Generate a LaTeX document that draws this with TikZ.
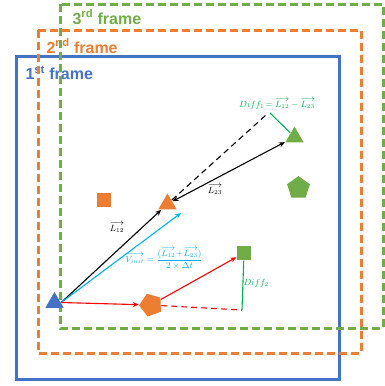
\documentclass[tikz,border=0pt]{standalone}
\usepackage{amstext, amsfonts, amsmath, amssymb}
\usepackage{fontspec}
\usepackage{tikz}
\usetikzlibrary{shapes.geometric, arrows.meta}
\newfontfamily\framefont{Liberation Sans}
\definecolor{fblue}{HTML}{4472C4}
\definecolor{forange}{HTML}{ED7D31}
\definecolor{fgreen}{HTML}{70AD47}
\definecolor{dgreen}{HTML}{00B050}
\definecolor{lblue}{HTML}{00B0F0}
\definecolor{fred}{HTML}{FF0000}
\begin{document}
\begin{tikzpicture}[x=1pt, y=-1pt, line width=1.1pt, >={Stealth[length=6pt,width=5pt]},
  tri/.style = {regular polygon, regular polygon sides=3, minimum size=21pt, inner sep=0pt},
  pent/.style = {regular polygon, regular polygon sides=5, minimum size=24pt, inner sep=0pt},
  sq/.style = {rectangle, minimum size=14pt, inner sep=0pt},
  frm/.style = {line width=3pt, dash pattern=on 8pt off 4pt},
  dsh/.style = {dash pattern=on 6pt off 4pt},
  lbl/.style = {font=\framefont\fontsize{16}{18}\selectfont\bfseries, inner sep=0pt, anchor=west},
  mth/.style = {font=\small, inner sep=1pt}]
 			\useasboundingbox (0,0) rectangle (385,386);

 			% frames
 			\draw[fblue, line width=3pt] (16,56) rectangle (339,379);
 			\node[lbl, text=fblue] (f1) at (25,73) {1\textsuperscript{st} frame};
 			\draw[forange, frm] (38,30) rectangle (361,353);
 			\node[lbl, text=forange] (f2) at (46,46) {2\textsuperscript{nd} frame};
 			\draw[fgreen, frm] (60,4) rectangle (383,328);
 			\node[lbl, text=fgreen] (f3) at (72,17) {3\textsuperscript{rd} frame};

 			% objects
 			\node[tri, fill=fblue] (1) at (54.5,302.5) {};
 			\node[tri, fill=forange] (2) at (167.5,204) {};
 			\node[tri, fill=fgreen] (3) at (294.5,137) {};
 			\node[sq, fill=forange] (4) at (104,200) {};
 			\node[pent, fill=forange, shape border rotate=20] (5) at (151,305) {};
 			\node[pent, fill=fgreen] (6) at (298.5,188) {};
 			\node[sq, fill=fgreen] (7) at (244,253) {};
 			\coordinate (8) at (266,115);
 			\coordinate (9) at (242,310);
 			\coordinate (10) at (181,213);
 			\coordinate (11) at (270,113);

 			% vectors
 			\draw[->] (1.east) -- (2);
 			\draw[->, lblue] (1.east) -- (10);
 			\draw[<->] (2) -- (3);
 			\draw[dsh] (2) -- (8);
 			\draw[->, fred] (1.east) -- (5);
 			\draw[->, fred] (5) -- (7);
 			\draw[dsh, fred] (5) -- (9);
 			\draw[dgreen] (9) -- (7);
 			\draw[dgreen] (11) -- (3);

 			% labels
 			\node[mth] (12) at (117,227) {$\overrightarrow{L_{12}}$};
 			\node[mth] (13) at (215,189) {$\overrightarrow{L_{23}}$};
 			\node[mth, text=dgreen] (14) at (277,104) {$Diff_1\!=\overrightarrow{L_{12}}-\overrightarrow{L_{23}}$};
 			\node[mth, text=lblue] (15) at (164,258) {$\overrightarrow{V_{init}}=\dfrac{(\overrightarrow{L_{12}}\!+\!\overrightarrow{L_{23}})}{2\times\Delta t}$};
 			\node[mth, text=dgreen, anchor=west] (16) at (242,283) {$Diff_2$};
 		\end{tikzpicture}
\end{document}
